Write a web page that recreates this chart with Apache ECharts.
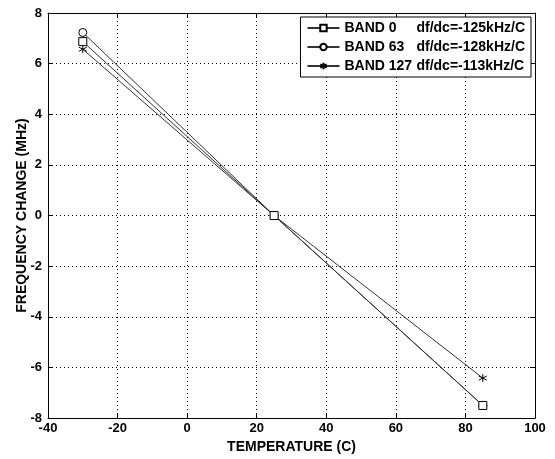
<!DOCTYPE html>
<html>
<head>
<meta charset="utf-8">
<script src="https://cdn.jsdelivr.net/npm/echarts@6/dist/echarts.min.js"></script>
<style>
  html, body { margin: 0; padding: 0; background: #fff; }
  #chart { width: 555px; height: 459px; }
</style>
</head>
<body>
<div id="chart"></div>
<script>
  // temperatures (C)
  var temps = [-30, 25, 85];
  var bandNames = ['BAND 0', 'BAND 63', 'BAND 127'];
  var slopes = ['-125', '-128', '-113'];
  // frequency change (MHz)
  var band0 = [6.87, 0, -7.5];
  var band63 = [7.23, 0, -7.5];
  var band127 = [6.57, 0, -6.42];

  var font = 'Liberation Sans, Arial, sans-serif';
  var starPath = 'path://M0,-5L0,5M-4.5,-2.6L4.5,2.6M-4.5,2.6L4.5,-2.6';
  var symbols = ['rect', 'circle', starPath];
  var sizes = [8, 8, 8];
  var allData = [band0, band63, band127];

  function pairs(vals) {
    return temps.map(function (t, i) { return [t, vals[i]]; });
  }

  var myChart = echarts.init(document.getElementById('chart'));

  var axisCommon = {
    axisLine: { show: true, onZero: false, lineStyle: { color: '#000', width: 1 } },
    axisTick: { show: true, inside: true, length: 5, lineStyle: { color: '#000' } },
    axisLabel: { color: '#000', fontFamily: font, fontWeight: 'bold', fontSize: 13 }
  };

  myChart.setOption({
    animation: false,
    backgroundColor: '#fff',
    grid: { left: 48, right: 20, top: 13, bottom: 40 },
    legend: {
      orient: 'vertical',
      right: 24,
      top: 17,
      backgroundColor: '#fff',
      borderColor: '#000',
      borderWidth: 1,
      padding: [4, 6, 4, 6],
      itemGap: 5,
      itemWidth: 32,
      itemHeight: 8,
      data: bandNames,
      formatter: function (name) {
        var i = bandNames.indexOf(name);
        return '{a|' + name + '}{b|df/dc=' + slopes[i] + 'kHz/C}';
      },
      textStyle: {
        color: '#000',
        fontFamily: font,
        fontWeight: 'bold',
        fontSize: 14,
        rich: {
          a: { width: 72, fontFamily: font, fontWeight: 'bold', fontSize: 14, color: '#000' },
          b: { fontFamily: font, fontWeight: 'bold', fontSize: 14, color: '#000' }
        }
      }
    },
    xAxis: [
      Object.assign({
        type: 'value', min: -40, max: 100, interval: 20,
        name: 'TEMPERATURE (C)', nameLocation: 'middle', nameGap: 21,
        nameTextStyle: { color: '#000', fontFamily: font, fontWeight: 'bold', fontSize: 14 },
        splitLine: { show: true, lineStyle: { color: '#000', type: [1, 3], width: 1 } }
      }, axisCommon, { axisLabel: Object.assign({}, axisCommon.axisLabel, { margin: 4 }) }),
      Object.assign({
        type: 'value', min: -40, max: 100, interval: 20, position: 'top',
        splitLine: { show: false }
      }, axisCommon, { axisLabel: { show: false } })
    ],
    yAxis: [
      Object.assign({
        type: 'value', min: -8, max: 8, interval: 2,
        name: 'FREQUENCY CHANGE (MHz)', nameLocation: 'middle', nameGap: 19,
        nameMoveOverlap: false,
        nameTextStyle: { color: '#000', fontFamily: font, fontWeight: 'bold', fontSize: 14 },
        splitLine: { show: true, lineStyle: { color: '#000', type: [1, 3], width: 1 } }
      }, axisCommon, { axisLabel: Object.assign({}, axisCommon.axisLabel, { margin: 6 }) }),
      Object.assign({
        type: 'value', min: -8, max: 8, interval: 2, position: 'right',
        splitLine: { show: false }
      }, axisCommon, { axisLabel: { show: false } })
    ],
    series: bandNames.map(function (name, i) {
      return {
        name: name,
        type: 'line',
        data: pairs(allData[i]),
        symbol: symbols[i],
        symbolSize: sizes[i],
        showAllSymbol: true,
        lineStyle: { color: '#333', width: 1 },
        itemStyle: { color: i === 2 ? '#000' : '#fff', borderColor: '#000', borderWidth: 1 },
        z: 3 - i
      };
    })
  });
</script>
</body>
</html>
